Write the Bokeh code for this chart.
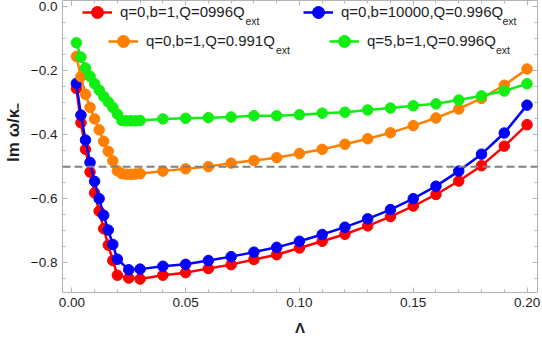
from bokeh.plotting import figure
from bokeh.models import (Range1d, LinearAxis, SingleIntervalTicker, Span, Legend,
                          LegendItem, Label, CustomJSTickFormatter)
from bokeh.embed import file_html
from bokeh.resources import INLINE

# Λ sample points
lam_fine = [0.002, 0.004, 0.006, 0.008, 0.010, 0.012, 0.014, 0.016, 0.018, 0.020,
            0.025, 0.030, 0.04, 0.05, 0.06, 0.07, 0.08, 0.09, 0.10, 0.11, 0.12,
            0.13, 0.14, 0.15, 0.16, 0.17, 0.18, 0.19, 0.20]
lam_dense = [0.002, 0.004, 0.006, 0.008, 0.010, 0.012, 0.014, 0.016, 0.018, 0.020,
             0.022, 0.024, 0.026, 0.028, 0.030, 0.04, 0.05, 0.06, 0.07, 0.08, 0.09,
             0.10, 0.11, 0.12, 0.13, 0.14, 0.15, 0.16, 0.17, 0.18, 0.19, 0.20]

# Im ω/κ₋ for each parameter set
im_q0_b1_Q0996 = [-0.256, -0.363, -0.446, -0.517, -0.582, -0.639, -0.694, -0.745, -0.793,
                  -0.839, -0.848, -0.851, -0.839, -0.831, -0.818, -0.806, -0.790, -0.775,
                  -0.754, -0.733, -0.711, -0.685, -0.656, -0.623, -0.587, -0.545, -0.497,
                  -0.436, -0.369]
im_q0_b10000_Q0996 = [-0.240, -0.339, -0.417, -0.487, -0.546, -0.600, -0.652, -0.698, -0.743,
                      -0.789, -0.822, -0.820, -0.811, -0.805, -0.793, -0.781, -0.767, -0.752,
                      -0.733, -0.712, -0.689, -0.663, -0.634, -0.600, -0.561, -0.514, -0.461,
                      -0.395, -0.308]
im_q0_b1_Q0991 = [-0.156, -0.219, -0.274, -0.315, -0.351, -0.385, -0.421, -0.452, -0.482,
                  -0.513, -0.522, -0.524, -0.524, -0.523, -0.522, -0.514, -0.507, -0.500,
                  -0.489, -0.481, -0.472, -0.459, -0.446, -0.430, -0.413, -0.394, -0.372,
                  -0.348, -0.320, -0.287, -0.246, -0.195]
im_q5_b1_Q0996 = [-0.113, -0.158, -0.192, -0.218, -0.241, -0.261, -0.281, -0.298, -0.315,
                  -0.336, -0.356, -0.357, -0.357, -0.357, -0.356, -0.351, -0.349, -0.347,
                  -0.345, -0.341, -0.341, -0.338, -0.333, -0.330, -0.323, -0.317, -0.310,
                  -0.304, -0.292, -0.279, -0.264, -0.241]

labels = ["q=0,b=1,Q=0996Q", "q=0,b=10000,Q=0.996Q", "q=0,b=1,Q=0.991Q", "q=5,b=1,Q=0.996Q"]
threshold = -0.5

FONT = "Liberation Sans"
FRAME = "#b4b4b4"
TEXT = "#1e1e1e"

# leading no-break spaces lift the rotated label a little above the frame's middle
y_title = "\u00a0" * 6 + "Im ω/κ₋"

p = figure(width=542, height=338, output_backend="svg", toolbar_location=None,
           x_range=Range1d(-0.0041, 0.2046), y_range=Range1d(-0.893, 0.0187),
           min_border_left=57, min_border_right=5, min_border_top=0, min_border_bottom=42,
           x_axis_label="Λ", y_axis_label=y_title)
p.grid.visible = False
p.outline_line_color = None
p.background_fill_color = "white"
p.border_fill_color = "white"

xfmt = CustomJSTickFormatter(code="return tick.toFixed(2);")
yfmt = CustomJSTickFormatter(code="""
    if (Math.abs(tick) < 1e-9) return '0.0';
    return tick.toFixed(1).replace('-', '\\u2212');
""")


def style_axis(ax, show_labels):
    ax.axis_line_color = FRAME
    ax.axis_line_width = 1
    ax.major_tick_line_color = FRAME
    ax.minor_tick_line_color = FRAME
    ax.major_tick_in = 5
    ax.major_tick_out = 0
    ax.minor_tick_in = 3
    ax.minor_tick_out = 0
    if show_labels:
        ax.major_label_text_font = FONT
        ax.major_label_text_font_size = "13.5px"
        ax.major_label_text_color = TEXT
        ax.axis_label_text_font = FONT
        ax.axis_label_text_font_style = "bold"
        ax.axis_label_text_color = TEXT
    else:
        ax.major_label_text_font_size = "0px"
        ax.major_label_standoff = 0


xax = p.xaxis[0]
yax = p.yaxis[0]
xax.ticker = SingleIntervalTicker(interval=0.05, num_minor_ticks=5)
yax.ticker = SingleIntervalTicker(interval=0.2, num_minor_ticks=4)
xax.formatter = xfmt
yax.formatter = yfmt
style_axis(xax, True)
style_axis(yax, True)
xax.major_label_standoff = 5
yax.major_label_standoff = 5
xax.axis_label_text_font_size = "15px"
yax.axis_label_text_font_size = "17px"
xax.axis_label_standoff = 9
yax.axis_label_standoff = 5

top = LinearAxis(ticker=SingleIntervalTicker(interval=0.05, num_minor_ticks=5),
                 formatter=CustomJSTickFormatter(code="return '';"))
right = LinearAxis(ticker=SingleIntervalTicker(interval=0.2, num_minor_ticks=4),
                   formatter=CustomJSTickFormatter(code="return '';"))
style_axis(top, False)
style_axis(right, False)
p.add_layout(top, "above")
p.add_layout(right, "right")

p.add_layout(Span(location=threshold, dimension="width", line_color="#7f7f7f",
                  line_width=2, line_dash="8 4"))

series = [
    (lam_fine, im_q0_b1_Q0996, "#ff0000", labels[0], (20, 265.5), (183, 272)),
    (lam_fine, im_q0_b10000_Q0996, "#0000ff", labels[1], (241, 265.5), (440, 272)),
    (lam_dense, im_q0_b1_Q0991, "#ff8000", labels[2], (46, 236.5), (213.5, 243)),
    (lam_dense, im_q5_b1_Q0996, "#11ee11", labels[3], (267, 236.5), (433.5, 243)),
]

for xs, ys, color, text, loc, sub_pos in series:
    ln = p.line(xs, ys, line_color=color, line_width=2.5)
    dots = p.scatter(xs, ys, size=10.5, fill_color=color, line_color=color)
    leg = Legend(items=[LegendItem(label=text, renderers=[ln, dots])], location=loc,
                 padding=0, margin=0, spacing=0, border_line_color=None,
                 background_fill_alpha=0, glyph_width=30, glyph_height=30,
                 label_height=30, label_standoff=8, label_text_font=FONT,
                 label_text_font_size="15px", label_text_color=TEXT)
    p.add_layout(leg)
    p.add_layout(Label(x=sub_pos[0], y=sub_pos[1], x_units="screen", y_units="screen",
                       text="ext", text_font=FONT, text_font_size="10.5px",
                       text_color=TEXT, text_baseline="alphabetic"))

open("out.html", "w").write(file_html(p, INLINE))
